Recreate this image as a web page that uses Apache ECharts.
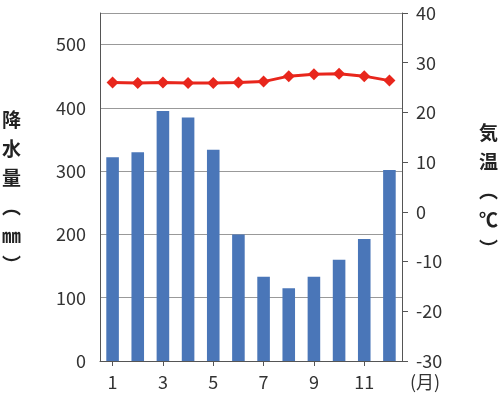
<!DOCTYPE html>
<html><head><meta charset="utf-8">
<script src="https://cdn.jsdelivr.net/npm/echarts@6/dist/echarts.min.js"></script>
<style>html,body{margin:0;background:#fff}#c{width:500px;height:414px}</style>
</head><body><div id="c"></div>
<script>
var months = ['1','2','3','4','5','6','7','8','9','10','11','12'];
var rain = [322, 330, 395, 385, 334, 200, 133, 115, 133, 160, 193, 302];
var temp = [26.0, 25.9, 26.0, 25.9, 25.9, 26.0, 26.2, 27.3, 27.7, 27.8, 27.3, 26.4];

var chart = echarts.init(document.getElementById('c'));
var font = 'Noto Sans CJK JP';
chart.setOption({
	animation: false,
	textStyle: { fontFamily: font },
	grid: { left: 100, right: 98, top: 13, bottom: 53 },
	xAxis: {
		type: 'category',
		data: months,
		axisLine: { lineStyle: { color: '#555' } },
		axisTick: { show: true, alignWithLabel: true, lineStyle: { color: '#555' } },
		axisLabel: { interval: 1, color: '#333', fontSize: 18, margin: 12 },
		name: '(月)',
		nameLocation: 'end',
		nameGap: 8,
		nameTextStyle: { color: '#333', fontSize: 18, verticalAlign: 'top', padding: [12, 0, 0, 0] }
	},
	yAxis: [{
		type: 'value', min: 0, max: 550, interval: 100,
		axisLine: { show: true, lineStyle: { color: '#555' } },
		axisTick: { show: false },
		axisLabel: { color: '#333', fontSize: 18, margin: 14,
			formatter: function (v) { return v > 500 ? '' : v; } },
		splitLine: { lineStyle: { color: '#999' } }
	}, {
		type: 'value', min: -30, max: 40, interval: 10,
		axisLine: { show: true, lineStyle: { color: '#555' } },
		axisTick: { show: true, length: 6, lineStyle: { color: '#555' } },
		axisLabel: { color: '#333', fontSize: 18, margin: 14 },
		splitLine: { show: false }
	}],
	series: [{
		type: 'bar', data: rain, yAxisIndex: 0, barWidth: '50%',
		itemStyle: { color: '#4a76b8' }
	}, {
		type: 'line', data: temp, yAxisIndex: 1,
		symbol: 'diamond', symbolSize: 12,
		lineStyle: { color: '#e8261c', width: 3 },
		itemStyle: { color: '#e8261c' }
	}],
	graphic: [{
		type: 'text', left: 2, top: 105,
		style: { text: '降\n水\n量\n︵\n㎜\n︶', font: 'bold 19px "' + font + '"', fill: '#222', lineHeight: 29, align: 'center' }
	}, {
		type: 'text', right: 2, top: 118,
		style: { text: '気\n温\n︵\n℃\n︶', font: 'bold 19px "' + font + '"', fill: '#222', lineHeight: 29, align: 'center' }
	}]
});
</script>
</body></html>
